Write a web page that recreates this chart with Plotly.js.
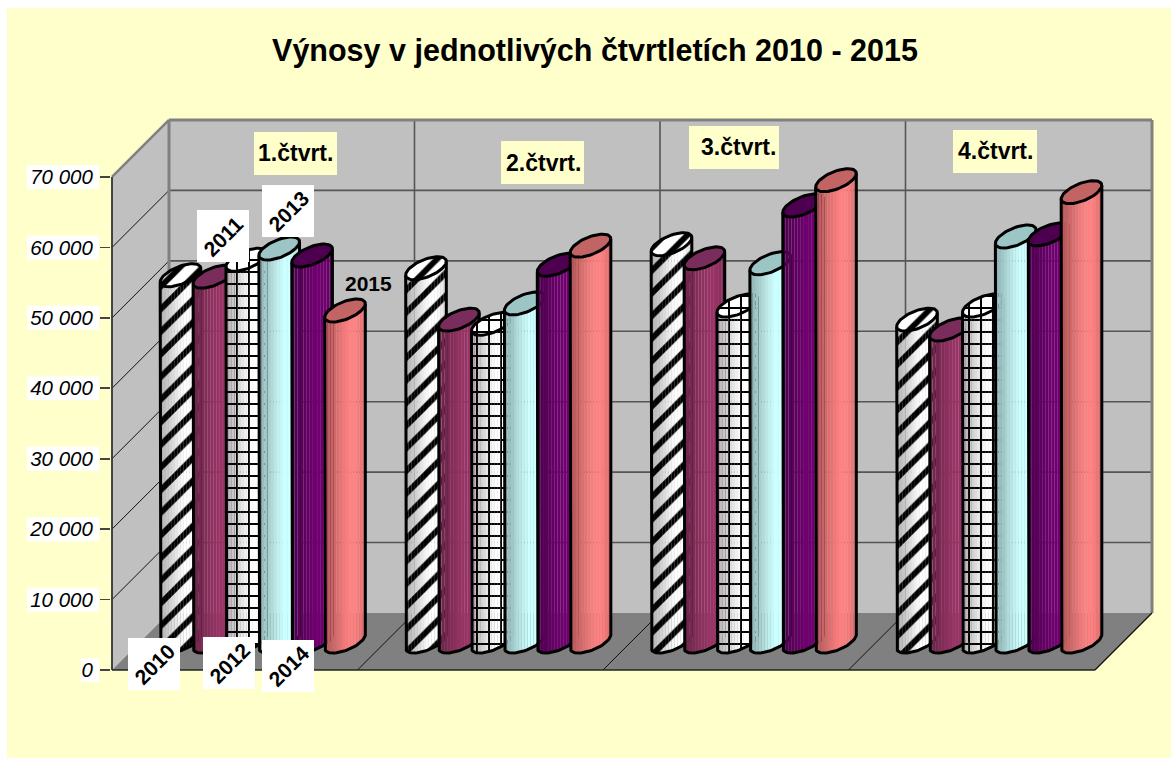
<!DOCTYPE html>
<html>
<head>
<meta charset="utf-8">
<script src="https://cdn.plot.ly/plotly-3.0.1.min.js"></script>
<style>html,body{margin:0;padding:0;background:#fff}#chart{width:1171px;height:758px}</style>
</head>
<body>
<div id="chart"></div>
<script>
const quarters = ['1.čtvrt.', '2.čtvrt.', '3.čtvrt.', '4.čtvrt.'];
const years = ['2010', '2011', '2012', '2013', '2014', '2015'];
const values2010 = [52000, 53000, 56400, 45700];
const values2011 = [51800, 45700, 54400, 44300];
const values2012 = [54200, 45100, 47700, 47700];
const values2013 = [55800, 48000, 53700, 57500];
const values2014 = [54800, 53500, 61900, 57800];
const values2015 = [47000, 56200, 65500, 63800];
const tickValues = [0, 10000, 20000, 30000, 40000, 50000, 60000, 70000];
const tickLabels = ['0', '10 000', '20 000', '30 000', '40 000', '50 000', '60 000', '70 000'];
const seriesValues = [values2010, values2011, values2012, values2013, values2014, values2015];

// styling per series
const bodyColor = [[255,255,255],[153,51,102],[255,255,255],[204,255,255],[112,0,112],[255,128,128]];
const capColor  = ['#ffffff','#7a2d5c','#ffffff','#9cc6c6','#4e0050','#c26464'];
const patterns  = [{shape:'/',size:16,solidity:0.36},null,{shape:'+',size:12,solidity:0.3},null,null,null];
const shades = [0.70,0.74,0.78,0.82,0.86,0.90,0.94,0.97,1,1,1,0.97,0.92,0.87];

// geometry of the oblique 3D frame, px on the page
const PXL=111, PXR=1160, PYT=110, PYB=674, FLOOR=670, DEPTH=57;
const xUnit=245.5, yUnit=70.43/10000;
const X=px=>(px-112)/xUnit;
const Y=py=>(FLOOR-py)/yUnit;
const PX=px=>(px-PXL)/(PXR-PXL);
const PY=py=>(PYB-py)/(PYB-PYT);
const R=16.4, Dx=12, E=11.5, halfW=Math.sqrt(R*R+Dx*Dx);
const lift=(FLOOR-641.5)/yUnit;
const centre=(q,s)=>X(180.5+245.5*q+32.9*s);

function lowerEdge(u){ // upward px offset of the near edge of the tilted ellipse
  const a=Dx*Dx/(R*R)+1, b=-2*u*Dx/(R*R), c=u*u/(R*R)-1;
  const disc=Math.max(0,b*b-4*a*c);
  return E*(-b-Math.sqrt(disc))/(2*a);
}
function ell(t){return {u:R*Math.cos(t)+Dx*Math.sin(t), w:E*Math.sin(t)};}

const traces=[];
const N=shades.length, stripW=2*halfW/N;
seriesValues.forEach((vals,s)=>{
  for(let i=0;i<N;i++){
    const u=-halfW+stripW*(i+0.5);
    const low=lowerEdge(Math.max(-halfW+0.3,Math.min(halfW-0.3,u)))/yUnit;
    const col=bodyColor[s].map(c=>Math.round(c*shades[i]));
    const rgb='rgb('+col.join(',')+')';
    const marker={color:rgb,line:{width:0}};
    if(patterns[s]) marker.pattern=Object.assign({fgcolor:'#000',bgcolor:rgb,fgopacity:1,fillmode:'replace'},patterns[s]);
    traces.push({type:'bar',name:years[s],x:vals.map((v,q)=>centre(q,s)+u/xUnit),y:vals,
      base:vals.map(()=>lift+low),width:stripW/xUnit,marker:marker,zorder:2*s,hoverinfo:'skip',showlegend:false});
  }
  // outline: left side, lower arc, right side
  const ox=[],oy=[],cx=[],cy=[];
  const tTan=Math.atan2(Dx,R);
  vals.forEach((v,q)=>{
    const c=centre(q,s);
    ox.push(c-halfW/xUnit); oy.push(lift+v+ell(tTan+Math.PI).w/yUnit);
    for(let k=0;k<=36;k++){
      const t=tTan+Math.PI+k/36*Math.PI, p=ell(t);
      ox.push(c+p.u/xUnit); oy.push(lift+p.w/yUnit);
    }
    ox.push(c+halfW/xUnit); oy.push(lift+v+ell(tTan).w/yUnit);
    ox.push(null); oy.push(null);
    for(let k=0;k<=60;k++){
      const p=ell(k/60*2*Math.PI);
      cx.push(c+p.u/xUnit); cy.push(lift+v+p.w/yUnit);
    }
    cx.push(null); cy.push(null);
  });
  traces.push({type:'scatter',mode:'lines',x:ox,y:oy,line:{color:'#000',width:3,shape:'linear'},
    zorder:2*s+1,hoverinfo:'skip',showlegend:false,name:years[s]});
  const cap={type:'scatter',mode:'lines',x:cx,y:cy,fill:'toself',fillcolor:capColor[s],line:{color:'#000',width:3},
    zorder:2*s+1,hoverinfo:'skip',showlegend:false,name:years[s]};
  if(patterns[s]) cap.fillpattern=Object.assign({fgcolor:'#000',bgcolor:'#fff',fgopacity:1,fillmode:'replace'},patterns[s]);
  traces.push(cap);
});

// frame
const yBack=FLOOR-DEPTH, yTop=yBack-70000*yUnit, yFrontTop=FLOOR-70000*yUnit;
const poly=(pts)=>'M'+pts.map(p=>X(p[0])+','+Y(p[1])).join(' L')+' Z';
const seg=(x0,y0,x1,y1,color,width)=>({type:'line',layer:'below',xref:'x',yref:'y',x0:X(x0),y0:Y(y0),x1:X(x1),y1:Y(y1),line:{color:color,width:width}});
const shapes=[
  {type:'rect',layer:'below',xref:'paper',yref:'paper',x0:PX(7),x1:PX(1171),y0:PY(8),y1:PY(758),fillcolor:'#FFFFCC',line:{width:0}},
  {type:'path',layer:'below',xref:'x',yref:'y',path:poly([[169,yTop],[1152,yTop],[1152,yBack],[169,yBack]]),fillcolor:'#C0C0C0',line:{width:0}},
  {type:'path',layer:'below',xref:'x',yref:'y',path:poly([[112,yFrontTop],[169,yTop],[169,yBack],[112,FLOOR]]),fillcolor:'#C0C0C0',line:{width:0}},
  {type:'path',layer:'below',xref:'x',yref:'y',path:poly([[112,FLOOR],[169,yBack],[1152,yBack],[1095,FLOOR]]),fillcolor:'#808080',line:{width:0}}
];
tickLabels.forEach((t,i)=>{
  const py=FLOOR-tickValues[i]*yUnit;
  shapes.push({type:'rect',layer:'below',xref:'paper',yref:'paper',x0:PX(i===0?81:27),x1:PX(99),y0:PY(py+12),y1:PY(py-12),fillcolor:'#fff',line:{width:0}});
  if(i>0){
    shapes.push(seg(169,py-DEPTH,1152,py-DEPTH,'#555',1.6));
    if(i<7) shapes.push(seg(112,py,169,py-DEPTH,'#111',1));
  }
});
for(let k=1;k<4;k++){
  shapes.push(seg(169+245.5*k,yTop,169+245.5*k,yBack,'#555',1.6));
  shapes.push(seg(112+245.5*k,FLOOR,169+245.5*k,yBack,'#111',1));
}
shapes.push(seg(112,yFrontTop,169,yTop,'#808080',2.5),seg(169,yTop,1152,yTop,'#808080',3),seg(1152,yTop,1152,yBack,'#808080',3),seg(169,yTop,169,yBack,'#808080',3));
shapes.push(seg(112,yFrontTop,112,FLOOR,'#333',1.8),seg(112,FLOOR,1095,FLOOR,'#222',1.6),seg(1095,FLOOR,1152,yBack,'#111',1.2));

// white squares behind the rotated year labels
const labelBox=[[128,180,638,690],[197,249,210,262],[203,255,637,689],[262,314,185,237],[262,314,640,692]];
labelBox.forEach(b=>shapes.push({type:'rect',layer:'above',xref:'paper',yref:'paper',x0:PX(b[0]),x1:PX(b[1]),y0:PY(b[3]),y1:PY(b[2]),fillcolor:'#fff',line:{width:0}}));
// pale boxes behind the quarter labels
const catBox=[[254,337,132,175],[501,584,141,184],[689,779,126,169],[953,1037,130,173]];
catBox.forEach(b=>shapes.push({type:'rect',layer:'above',xref:'paper',yref:'paper',x0:PX(b[0]),x1:PX(b[1]),y0:PY(b[3]),y1:PY(b[2]),fillcolor:'#FFFFCC',line:{width:0}}));

const ff='"Liberation Sans", Arial, sans-serif';
const ann=[];
const catText=[[295,153],[543,163],[738,147],[995,151]];
quarters.forEach((q,i)=>ann.push({xref:'paper',yref:'paper',x:PX(catText[i][0]),y:PY(catText[i][1]),text:'<b>'+q+'</b>',showarrow:false,
  xanchor:'center',yanchor:'middle',font:{family:ff,size:23,color:'#000'}}));
labelBox.forEach((b,i)=>ann.push({xref:'paper',yref:'paper',x:PX((b[0]+b[1])/2),y:PY((b[2]+b[3])/2),text:'<b>'+years[i]+'</b>',showarrow:false,
  xanchor:'center',yanchor:'middle',textangle:-45,font:{family:ff,size:21,color:'#000'}}));
ann.push({xref:'paper',yref:'paper',x:PX(368),y:PY(283),text:'<b>'+years[5]+'</b>',showarrow:false,xanchor:'center',yanchor:'middle',font:{family:ff,size:21,color:'#000'}});

const layout={
  width:1171,height:758,
  margin:{l:PXL,r:1171-PXR,t:PYT,b:758-PYB,pad:0},
  paper_bgcolor:'#fff',plot_bgcolor:'rgba(0,0,0,0)',
  barmode:'overlay',showlegend:false,hovermode:false,
  title:{text:'<b>Výnosy v jednotlivých čtvrtletích 2010 - 2015</b>',font:{family:ff,size:30.5,color:'#000'},
    xref:'paper',x:PX(595),xanchor:'center',yref:'container',y:1-50/758,yanchor:'middle'},
  xaxis:{range:[X(PXL),X(PXR)],visible:false,fixedrange:true},
  yaxis:{range:[Y(PYB),Y(PYT)],showgrid:false,zeroline:false,showline:false,tickmode:'array',tickvals:tickValues,ticktext:tickLabels,
    ticks:'outside',ticklen:10,tickwidth:1.6,tickcolor:'#444',ticklabelstandoff:3,tickfont:{family:ff,size:20.5,color:'#000',style:'italic'},fixedrange:true},
  shapes:shapes,annotations:ann
};
Plotly.newPlot('chart',traces,layout,{displayModeBar:false,staticPlot:true});
</script>
</body>
</html>
